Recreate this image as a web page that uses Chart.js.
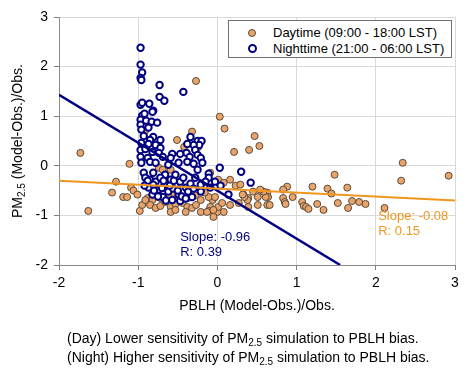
<!DOCTYPE html>
<html>
<head>
<meta charset="utf-8">
<script src="https://cdn.jsdelivr.net/npm/chart.js@4"></script>
<style>
  html, body { margin: 0; padding: 0; background: #fff; }
  #wrap { position: relative; width: 474px; height: 381px; font-family: "Liberation Sans", Arial, sans-serif; color: #000; }
  #c { position: absolute; left: 0; top: 0; }
  #ytitle { position: absolute; left: 17px; top: 141px; transform: translate(-50%, -50%) rotate(-90deg); white-space: nowrap; font-size: 14px; }
  sub { font-size: 10px; vertical-align: -3px; line-height: 0; }
  #legend { position: absolute; left: 228px; top: 20px; width: 222px; height: 36px; border: 1px solid #707070; background: #fff; font-size: 13px; }
  .row { position: absolute; left: 0; height: 16px; line-height: 16px; white-space: nowrap; }
  .mk { position: absolute; left: 19px; top: 4px; width: 6px; height: 6px; border-radius: 50%; }
  .row span.t { position: absolute; left: 44px; top: 0; }
  #caption { position: absolute; left: 67px; top: 329px; font-size: 14px; line-height: 19px; white-space: nowrap; }
</style>
</head>
<body>
<div id="wrap">
  <canvas id="c" width="474" height="381"></canvas>
  <div id="ytitle">PM<sub>2.5</sub> (Model-Obs.)/Obs.</div>
  <div id="legend">
    <div class="row" style="top:4px"><div class="mk" style="background:#E8A46A;border:1px solid #5a4a3a;"></div><span class="t">Daytime (09:00 - 18:00 LST)</span></div>
    <div class="row" style="top:20px"><div class="mk" style="background:#fff;border:2px solid #000080;width:5px;height:5px;top:3px;"></div><span class="t">Nighttime (21:00 - 06:00 LST)</span></div>
  </div>
  <div id="caption">(Day) Lower sensitivity of PM<sub>2.5</sub> simulation to PBLH bias.<br>(Night) Higher sensitivity of PM<sub>2.5</sub> simulation to PBLH bias.</div>
</div>
<script>
// ---- Data ----
const xTicks = [-2, -1, 0, 1, 2, 3];
const yTicks = [-2, -1, 0, 1, 2, 3];

const dayX = [-1.73,-1.63,-1.33,-1.28,-1.19,-1.14,-1.11,-1.09,-1.06,-0.98,-0.91,-0.88,-0.82,-0.74,-0.69,-0.59,-0.51,-0.42,-0.32,-0.27,-0.24,0.03,0.09,0.47,0.53,0.40,0.21,-0.09,0.01,0.08,0.16,0.23,0.29,0.33,0.45,0.51,0.63,0.64,0.63,0.39,0.27,0.16,0.08,0.00,0.01,-0.09,-0.06,-0.11,-0.03,0.06,-0.05,-0.11,0.83,0.88,0.83,0.95,1.07,1.09,1.12,1.15,1.26,1.34,1.20,1.39,1.44,1.48,1.52,1.64,1.65,1.70,1.79,1.87,2.11,2.34,2.32,2.92,0.85,0.86,0.66,0.61,0.58,0.54,0.51,0.38,0.34,0.32,0.39,-0.85,-0.78,-0.72,-0.66,-0.59,-0.53,-0.44,-0.38,-0.32,-0.21,-0.13,-0.05,-0.27,-0.49,-0.57,-0.37,-0.28,-0.21,-0.95,-0.91,-1.01,-0.72,-0.62,-0.16,-0.40,-0.59,-0.53];
const dayY = [0.26,-0.91,-0.54,-0.32,-0.63,-0.63,0.04,-0.44,-0.50,-0.91,0.71,-0.65,-0.69,-0.04,-0.08,-0.08,0.52,0.38,0.69,1.71,0.38,0.99,0.75,0.60,0.40,0.32,0.28,-0.14,-0.28,-0.34,-0.28,-0.40,-0.38,-0.58,-0.52,-0.63,-0.54,-0.63,-0.79,-0.65,-0.75,-0.79,-0.93,-0.93,-0.83,-0.83,-0.69,-0.63,-0.63,-0.75,-1.03,-0.91,-0.65,-0.42,-0.48,-0.63,-0.73,-0.81,-0.83,-0.87,-0.77,-0.89,-0.42,-0.46,-0.56,-0.18,-0.75,-0.44,-0.85,-0.71,-0.73,-0.77,-0.85,0.06,-0.30,-0.20,-0.73,-0.77,-0.79,-0.63,-0.52,-0.48,-0.79,-0.69,-0.63,-0.58,-0.83,-0.79,-0.85,-0.81,-0.73,-0.83,-0.77,-0.75,-0.83,-0.85,-0.93,-0.93,-0.89,-0.79,-0.65,-0.56,-0.65,-0.60,-0.69,-0.79,-0.69,-0.58,-0.65,-0.60,-0.54,-0.93,-0.93,-0.89];

const nightX = [-0.97,-0.97,-0.95,-0.97,-0.96,-0.73,-0.43,-0.73,-0.67,-0.97,-0.95,-0.86,-0.81,-0.82,-0.95,-0.92,-0.97,-0.90,-0.83,-0.76,-0.97,-0.96,-0.87,-0.93,-0.81,-0.72,-0.85,-0.96,-0.87,-0.78,-0.72,-0.97,-0.91,-0.82,-0.74,-0.69,-0.97,-0.88,-0.85,-0.78,-0.34,-0.25,-0.20,-0.23,-0.30,-0.38,-0.28,-0.39,-0.47,-0.57,-0.59,-0.35,-0.25,-0.21,-0.49,-0.38,-0.62,-0.30,-0.19,-0.25,-0.96,-0.93,-0.81,-0.66,-0.53,-0.11,0.03,0.30,0.42,0.14,-0.11,-0.91,-0.85,-0.78,-0.72,-0.66,-0.59,-0.53,-0.47,-0.40,-0.34,-0.28,-0.21,-0.15,-0.87,-0.74,-0.62,-0.49,-0.37,-0.69,-0.57,-0.47,-0.32,-0.21,-0.09,-0.03,0.04,-0.81,-0.43,-0.68,-0.56,-0.82,-0.88,-0.80,-0.70,-0.60,-0.50,-0.45,-0.65,-0.75,-0.92,-0.55,-0.30,-0.40];
const nightY = [2.38,2.04,1.88,1.77,1.73,1.63,1.49,1.39,1.31,1.23,1.27,1.25,1.11,1.09,1.01,1.05,0.93,0.91,0.89,0.87,0.83,0.73,0.77,0.60,0.58,0.52,0.52,0.46,0.44,0.42,0.36,0.32,0.34,0.28,0.26,0.18,0.18,0.16,0.08,0.06,0.58,0.50,0.50,0.42,0.42,0.44,0.32,0.26,0.24,0.24,0.16,0.18,0.22,0.16,0.06,0.08,0.02,0.04,0.06,-0.08,0.06,-0.14,-0.14,-0.18,-0.18,-0.16,-0.04,-0.12,-0.34,-0.58,-0.24,-0.24,-0.28,-0.32,-0.24,-0.38,-0.28,-0.40,-0.32,-0.44,-0.36,-0.24,-0.38,-0.32,-0.44,-0.48,-0.52,-0.58,-0.52,-0.63,-0.69,-0.71,-0.63,-0.52,-0.44,-0.32,-0.40,-0.38,-0.24,-0.30,-0.46,-0.58,-0.30,-0.50,-0.45,-0.40,-0.50,-0.62,-0.70,-0.62,-0.40,-0.30,-0.46,-0.66];

// Regression lines (end points)
const dayFitX = [-2, 3];
const dayFitY = [-0.30, -0.70];
const nightFitX = [-2, 1.55];
const nightFitY = [1.43, -2.0];

const annotations = [
  { x: -0.47, y: -1.45, text: 'Slope: -0.96', color: '#000080' },
  { x: -0.47, y: -1.75, text: 'R: 0.39', color: '#000080' },
  { x: 2.03, y: -1.03, text: 'Slope: -0.08', color: '#F0961E' },
  { x: 2.03, y: -1.33, text: 'R: 0.15', color: '#F0961E' }
];

const pair = (xs, ys) => xs.map((v, i) => ({ x: v, y: ys[i] }));
const FONT = '"Liberation Sans", Arial, sans-serif';

const annPlugin = {
  id: 'ann',
  afterDatasetsDraw(chart) {
    const { ctx, scales } = chart;
    ctx.save();
    ctx.font = '13px ' + FONT;
    ctx.textAlign = 'left';
    ctx.textBaseline = 'middle';
    annotations.forEach(a => {
      ctx.fillStyle = a.color;
      ctx.fillText(a.text, scales.x.getPixelForValue(a.x), scales.y.getPixelForValue(a.y));
    });
    ctx.restore();
  }
};

new Chart(document.getElementById('c'), {
  type: 'scatter',
  data: {
    datasets: [
      { label: 'Day fit', type: 'line', data: pair(dayFitX, dayFitY), borderColor: '#F0961E', borderWidth: 2, pointRadius: 0, fill: false, order: 0 },
      { label: 'Night fit', type: 'line', data: pair(nightFitX, nightFitY), borderColor: '#000080', borderWidth: 2.5, pointRadius: 0, fill: false, order: 0 },
      { label: 'Nighttime (21:00 - 06:00 LST)', data: pair(nightX, nightY), backgroundColor: '#ffffff', borderColor: '#000080', borderWidth: 2, pointRadius: 3.2, order: 1 },
      { label: 'Daytime (09:00 - 18:00 LST)', data: pair(dayX, dayY), backgroundColor: '#E8A46A', borderColor: '#5a4a3a', borderWidth: 1, pointRadius: 3.5, order: 2 }
    ]
  },
  options: {
    responsive: false,
    animation: false,
    devicePixelRatio: 1,
    layout: { padding: { top: 17, right: 19, left: 0, bottom: 62 } },
    plugins: { legend: { display: false }, tooltip: { enabled: false } },
    scales: {
      x: {
        type: 'linear', min: -2, max: 3,
        afterBuildTicks: s => { s.ticks = xTicks.map(v => ({ value: v })); },
        afterFit: s => { s.height = 54; },
        ticks: { color: '#000', font: { size: 14, family: FONT }, padding: 5 },
        grid: { color: '#d9d9d9', tickLength: 5, tickColor: '#808080' },
        border: { color: '#8c8c8c', width: 1 },
        title: { display: true, text: 'PBLH (Model-Obs.)/Obs.', color: '#000', font: { size: 14, family: FONT }, padding: { top: 4, bottom: 4 } }
      },
      y: {
        type: 'linear', min: -2, max: 3,
        afterBuildTicks: s => { s.ticks = yTicks.map(v => ({ value: v })); },
        afterFit: s => { s.width = 59; },
        ticks: { color: '#000', font: { size: 14, family: FONT }, padding: 6 },
        grid: { color: '#d9d9d9', tickLength: 5, tickColor: '#808080' },
        border: { color: '#8c8c8c', width: 1 }
      }
    }
  },
  plugins: [annPlugin]
});
</script>
</body>
</html>
